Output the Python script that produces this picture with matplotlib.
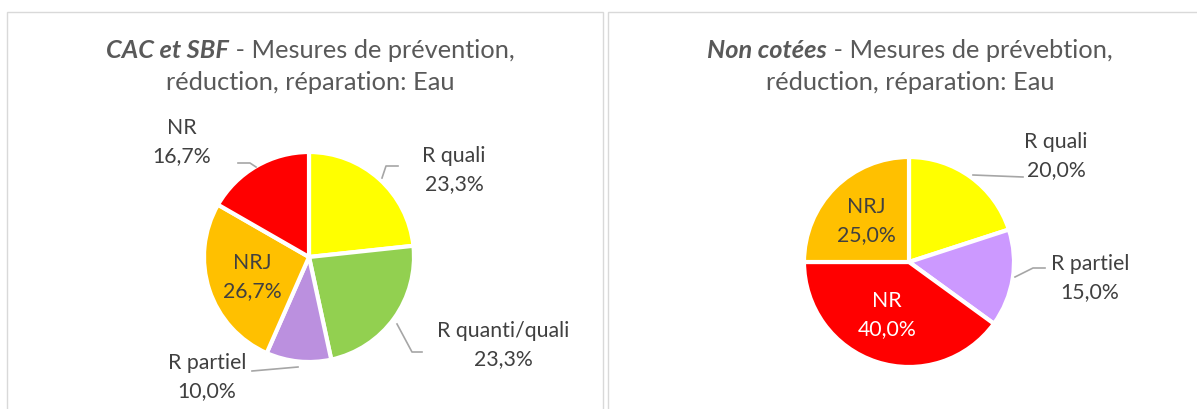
import numpy as np
import matplotlib.pyplot as plt
from matplotlib.patches import Rectangle

# data
cac_labels = ['R quali', 'R quanti/quali', 'R partiel', 'NRJ', 'NR']
cac_values = [23.3, 23.3, 10.0, 26.7, 16.7]
cac_colors = ['#FFFF00', '#92D050', '#BB90DF', '#FFC000', '#FF0000']

nc_labels = ['R quali', 'R partiel', 'NR', 'NRJ']
nc_values = [20.0, 15.0, 40.0, 25.0]
nc_colors = ['#FFFF00', '#CC99FF', '#FF0000', '#FFC000']

W, H = 1197, 409
TXT = '#595959'
LBL = '#404040'
LINE = '#A6A6A6'
FONT = 'Lato'
TSIZE = 18.3
LSIZE = 15.3

fig = plt.figure(figsize=(W / 100, H / 100), dpi=100)
ax = fig.add_axes([0, 0, 1, 1])
ax.set_xlim(0, W)
ax.set_ylim(0, H)
ax.axis('off')


def Y(y):
    # image row -> axes y
    return H - y


# panel borders
ax.add_patch(Rectangle((7, -20), 596, Y(12) + 20, fill=False, ec='#D9D9D9', lw=1))
ax.add_patch(Rectangle((608, -20), 620, Y(12) + 20, fill=False, ec='#D9D9D9', lw=1))


def title(cx, y, bold, rest):
    t1 = ax.text(0, Y(y), bold, fontsize=TSIZE, fontweight='bold', style='italic',
                 color=TXT, family=FONT, va='center', ha='left')
    t2 = ax.text(0, Y(y), rest, fontsize=TSIZE, color=TXT, family=FONT,
                 va='center', ha='left')
    fig.canvas.draw()
    r = fig.canvas.get_renderer()
    w1 = t1.get_window_extent(r).width
    w2 = t2.get_window_extent(r).width
    x0 = cx - (w1 + w2) / 2
    t1.set_x(x0)
    t2.set_x(x0 + w1)


def pie(cx, cy, values, colors):
    wedges, _ = ax.pie(values, colors=colors, startangle=90, counterclock=False,
                       center=(cx, Y(cy)), radius=105, frame=True,
                       wedgeprops=dict(edgecolor='white', linewidth=3))
    return wedges


def label(x, y, name, val, color=LBL):
    ax.text(x, Y(y), f'{name}\n{val:.1f}%'.replace('.', ','), ha='center', va='center',
            fontsize=LSIZE, color=color, family=FONT, linespacing=1.55)


def leader(pts):
    xs = [p[0] for p in pts]
    ys = [Y(p[1]) for p in pts]
    ax.plot(xs, ys, color=LINE, lw=1.2)


# left chart
title(310, 50, 'CAC et SBF', ' - Mesures de prévention,')
ax.text(310, Y(83), 'réduction, réparation: Eau', ha='center', va='center',
        fontsize=TSIZE, color=TXT, family=FONT)
cx, cy = 309, 257
wl = pie(cx, cy, cac_values, cac_colors)
label(454, 170, cac_labels[0], cac_values[0])
label(503, 345, cac_labels[1], cac_values[1])
label(207, 377, cac_labels[2], cac_values[2])
label(252, 277, cac_labels[3], cac_values[3])
label(182, 142, cac_labels[4], cac_values[4])

leader([(382, 178), (386, 166), (398, 166)])
leader([(397, 324), (412, 352), (422, 352)])
leader([(298, 367), (252, 371)])
leader([(256, 167), (250, 163), (238, 163)])

# right chart
title(910, 50, 'Non cotées', ' - Mesures de prévebtion,')
ax.text(910, Y(83), 'réduction, réparation: Eau', ha='center', va='center',
        fontsize=TSIZE, color=TXT, family=FONT)
cx, cy = 909, 262
wr = pie(cx, cy, nc_values, nc_colors)
label(1056, 156, nc_labels[0], nc_values[0])
label(1090, 278, nc_labels[1], nc_values[1])
label(887, 315, nc_labels[2], nc_values[2], color='white')
label(866, 221, nc_labels[3], nc_values[3])

leader([(973, 175), (1023, 177)])
leader([(1015, 277), (1033, 268), (1045, 268)])

ax.set_xlim(0, W)
ax.set_ylim(0, H)
ax.set_aspect('auto')
fig.savefig('out.png', dpi=100)
